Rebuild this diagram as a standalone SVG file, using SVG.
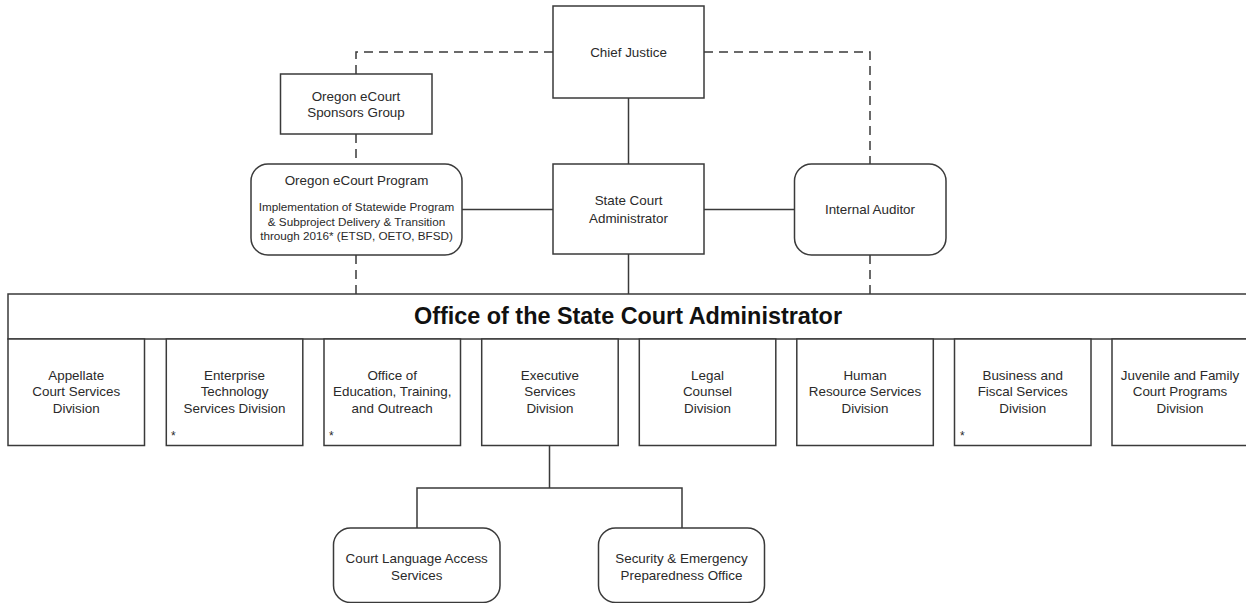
<svg xmlns="http://www.w3.org/2000/svg" width="1246" height="603" viewBox="0 0 1246 603">
<style>
.box{fill:#fff;stroke:#3a3a3a;stroke-width:1.5}
.ln{fill:none;stroke:#3a3a3a;stroke-width:1.5}
.dash{fill:none;stroke:#3a3a3a;stroke-width:1.5;stroke-dasharray:9 6}
text{font-family:"Liberation Sans",Arial,sans-serif;font-size:13.4px;fill:#2a2a2a;text-anchor:middle}
.sm{font-size:11.7px}
.title{font-size:23.4px;font-weight:bold;fill:#111}
.ast{text-anchor:start;font-size:12px}
</style>
<rect width="1246" height="603" fill="#fff"/>
<g id="connectors">
<path class="dash" d="M356,74 V52 H553"/>
<path class="dash" d="M356,134 V164"/>
<path class="dash" d="M704,52 H870 V164"/>
<path class="dash" d="M356,255 V294"/>
<path class="dash" d="M870,255 V294"/>
<path class="ln" d="M628.5,98 V164"/>
<path class="ln" d="M462,209.5 H553"/>
<path class="ln" d="M704,209.5 H794"/>
<path class="ln" d="M628.5,254 V294"/>
<path class="ln" d="M549.5,445.5 V488 M417,528 V488 H682 V528"/>
</g>
<g id="chief-justice">
<rect class="box" x="553" y="6" width="151" height="92"/>
<text x="628.5" y="56.7">Chief Justice</text>
</g>
<g id="sponsors-group">
<rect class="box" x="280.5" y="74" width="151.5" height="60"/>
<text x="356" y="100.7">Oregon eCourt</text>
<text x="356" y="116.7">Sponsors Group</text>
</g>
<g id="ecourt-program">
<rect class="box" x="251" y="164" width="211" height="91" rx="17"/>
<text x="356.5" y="184.7">Oregon eCourt Program</text>
<text class="sm" x="356.5" y="211.4">Implementation of Statewide Program</text>
<text class="sm" x="356.5" y="225.6">&amp; Subproject Delivery &amp; Transition</text>
<text class="sm" x="356.5" y="240.4">through 2016* (ETSD, OETO, BFSD)</text>
</g>
<g id="state-court-administrator">
<rect class="box" x="553" y="164" width="151" height="90"/>
<text x="628.5" y="204.7">State Court</text>
<text x="628.5" y="223">Administrator</text>
</g>
<g id="internal-auditor">
<rect class="box" x="794.5" y="164" width="151.5" height="91" rx="17"/>
<text x="870" y="213.7">Internal Auditor</text>
</g>
<g id="office-band">
<rect class="box" x="8" y="294" width="1250" height="45"/>
<text class="title" x="628" y="324.3">Office of the State Court Administrator</text>
</g>
<g id="appellate">
<rect class="box" x="8" y="339" width="136.5" height="106.5"/>
<text x="76.2" y="379.7">Appellate</text>
<text x="76.2" y="396.4">Court Services</text>
<text x="76.2" y="413.1">Division</text>
</g>
<g id="etsd">
<rect class="box" x="166.3" y="339" width="136.5" height="106.5"/>
<text x="234.5" y="379.7">Enterprise</text>
<text x="234.5" y="396.4">Technology</text>
<text x="234.5" y="413.1">Services Division</text>
<text class="ast" x="171" y="440">*</text>
</g>
<g id="oeto">
<rect class="box" x="324" y="339" width="136.5" height="106.5"/>
<text x="392.2" y="379.7">Office of</text>
<text x="392.2" y="396.4">Education, Training,</text>
<text x="392.2" y="413.1">and Outreach</text>
<text class="ast" x="329" y="440">*</text>
</g>
<g id="executive">
<rect class="box" x="481.7" y="339" width="136.5" height="106.5"/>
<text x="549.9" y="379.7">Executive</text>
<text x="549.9" y="396.4">Services</text>
<text x="549.9" y="413.1">Division</text>
</g>
<g id="legal">
<rect class="box" x="639.3" y="339" width="136.5" height="106.5"/>
<text x="707.5" y="379.7">Legal</text>
<text x="707.5" y="396.4">Counsel</text>
<text x="707.5" y="413.1">Division</text>
</g>
<g id="hr">
<rect class="box" x="796.8" y="339" width="136.5" height="106.5"/>
<text x="865" y="379.7">Human</text>
<text x="865" y="396.4">Resource Services</text>
<text x="865" y="413.1">Division</text>
</g>
<g id="bfsd">
<rect class="box" x="954.5" y="339" width="136.5" height="106.5"/>
<text x="1022.7" y="379.7">Business and</text>
<text x="1022.7" y="396.4">Fiscal Services</text>
<text x="1022.7" y="413.1">Division</text>
<text class="ast" x="960" y="440">*</text>
</g>
<g id="juvenile">
<rect class="box" x="1112" y="339" width="140" height="106.5"/>
<text x="1180" y="379.7">Juvenile and Family</text>
<text x="1180" y="396.4">Court Programs</text>
<text x="1180" y="413.1">Division</text>
</g>
<g id="court-language">
<rect class="box" x="333.5" y="528" width="166.5" height="74.5" rx="17"/>
<text x="416.7" y="563">Court Language Access</text>
<text x="416.7" y="579.7">Services</text>
</g>
<g id="security">
<rect class="box" x="598.5" y="528" width="166" height="74.5" rx="17"/>
<text x="681.5" y="563">Security &amp; Emergency</text>
<text x="681.5" y="579.7">Preparedness Office</text>
</g>
</svg>
